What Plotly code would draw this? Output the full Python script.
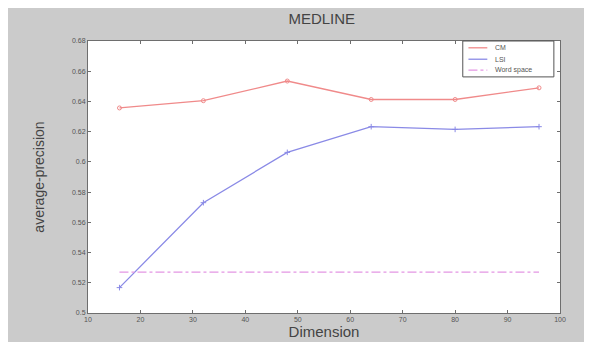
import plotly.graph_objects as go

dimension = [16, 32, 48, 64, 80, 96]
cm_values = [0.6357, 0.6405, 0.6535, 0.6413, 0.6413, 0.649]
lsi_values = [0.5168, 0.573, 0.6063, 0.6233, 0.6215, 0.6233]
word_space = [0.527, 0.527, 0.527, 0.527, 0.527, 0.527]
series_names = ["CM", "LSI", "Word space"]
series_colors = ["#f08a8a", "#8a8ae6", "#e496e4"]
x_ticks = [10, 20, 30, 40, 50, 60, 70, 80, 90, 100]
y_ticks = [0.5, 0.52, 0.54, 0.56, 0.58, 0.6, 0.62, 0.64, 0.66, 0.68]

fig = go.Figure()
fig.add_trace(go.Scatter(x=dimension, y=cm_values, name=series_names[0],
                         mode="lines+markers",
                         line=dict(color=series_colors[0], width=1.3),
                         marker=dict(symbol="circle-open", size=4, color=series_colors[0])))
fig.add_trace(go.Scatter(x=dimension, y=lsi_values, name=series_names[1],
                         mode="lines+markers",
                         line=dict(color=series_colors[1], width=1.3),
                         marker=dict(symbol="cross-thin-open", size=4, color=series_colors[1])))
fig.add_trace(go.Scatter(x=dimension, y=word_space, name=series_names[2],
                         mode="lines",
                         line=dict(color=series_colors[2], width=1.2, dash="dashdot")))

axis_common = dict(showline=True, linecolor="#6e6e6e", linewidth=1, mirror="ticks",
                   ticks="inside", ticklen=3, tickcolor="#6e6e6e", showgrid=False,
                   zeroline=False, tickfont=dict(family="Arial", size=7, color="#555555"))

# compact legend box (Matlab style)
shapes = [dict(type="rect", xref="paper", yref="paper", x0=0.794, x1=0.987,
               y0=0.868, y1=1.0, fillcolor="#ffffff",
               line=dict(color="#555555", width=1), layer="above")]
annotations = []
legend_y = [0.975, 0.933, 0.893]
dashes = ["solid", "solid", "dashdot"]
for name, color, yy, dsh in zip(series_names, series_colors, legend_y, dashes):
    shapes.append(dict(type="line", xref="paper", yref="paper", x0=0.806, x1=0.846,
                       y0=yy, y1=yy, line=dict(color=color, width=1.3, dash=dsh),
                       layer="above"))
    annotations.append(dict(xref="paper", yref="paper", x=0.858, y=yy, text=name,
                            showarrow=False, xanchor="left", yanchor="middle",
                            font=dict(family="Arial", size=7, color="#555555")))

fig.update_layout(
    width=592, height=342,
    paper_bgcolor="#cbcbcb", plot_bgcolor="#ffffff",
    margin=dict(l=80, r=40, t=33, b=34),
    title=dict(text="MEDLINE", x=0.53, xanchor="center", y=0.985, yanchor="top",
               font=dict(family="Arial", size=15, color="#444444")),
    xaxis=dict(range=[10, 100], tickvals=x_ticks,
               title=dict(text="Dimension", standoff=4,
                          font=dict(family="Arial", size=15, color="#444444")),
               **axis_common),
    yaxis=dict(range=[0.5, 0.68], tickvals=y_ticks,
               ticktext=[f"{v:g}" for v in y_ticks],
               title=dict(text="average-precision", standoff=24,
                          font=dict(family="Arial", size=14, color="#444444")),
               **axis_common),
    shapes=shapes,
    annotations=annotations,
    showlegend=False,
)

fig.write_html("out.html")
